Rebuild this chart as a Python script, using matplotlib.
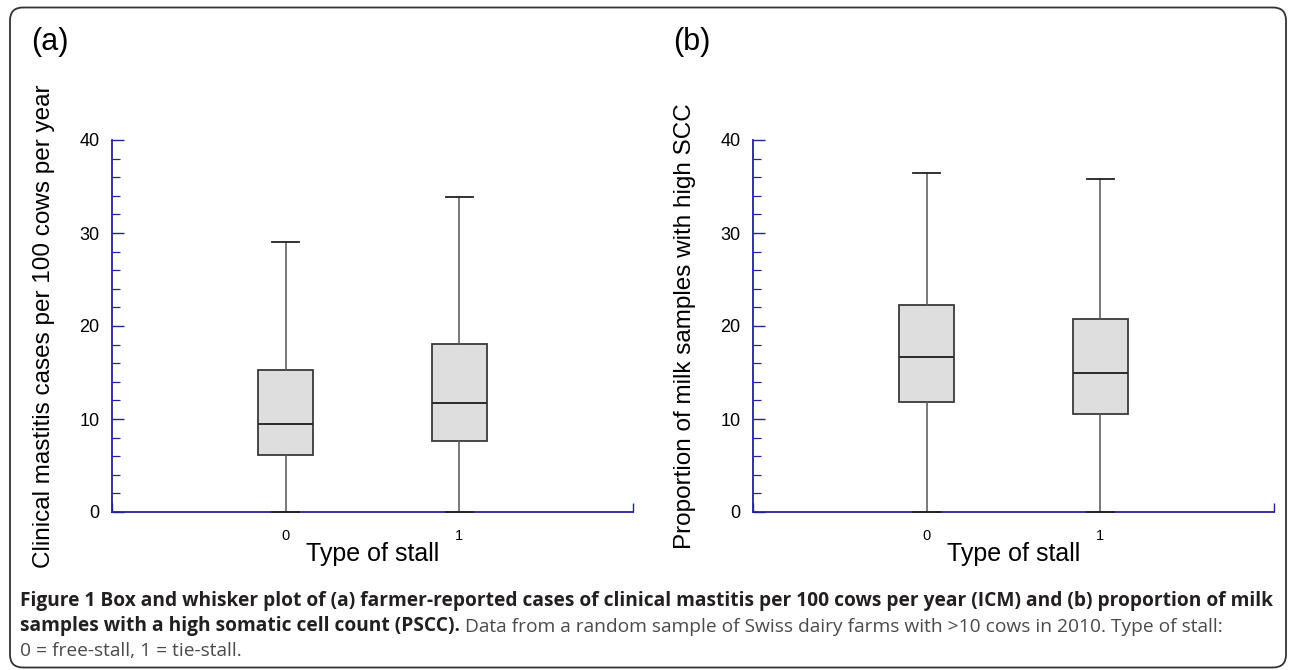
import matplotlib
matplotlib.use("Agg")
import matplotlib.pyplot as plt
from matplotlib.patches import FancyBboxPatch
from matplotlib.ticker import MultipleLocator, FixedLocator

# values
stall_types = [0, 1]
stall_labels = ["0", "1"]

icm_low = [0.0, 0.0]
icm_q1 = [6.1, 7.6]
icm_median = [9.5, 11.7]
icm_q3 = [15.3, 18.1]
icm_high = [29.0, 33.9]

pscc_low = [0.0, 0.0]
pscc_q1 = [11.8, 10.5]
pscc_median = [16.7, 15.0]
pscc_q3 = [22.3, 20.7]
pscc_high = [36.5, 35.8]

ylabel_a = "Clinical mastitis cases per 100 cows per year"
ylabel_b = "Proportion of milk samples with high SCC"
xlabel = "Type of stall"

cap_bold_1 = ("Figure 1 Box and whisker plot of (a) farmer-reported cases of clinical mastitis "
              "per 100 cows per year (ICM) and (b) proportion of milk")
cap_bold_2 = "samples with a high somatic cell count (PSCC)."
cap_reg_2 = "Data from a random sample of Swiss dairy farms with >10 cows in 2010. Type of stall:"
cap_reg_3 = "0 = free-stall, 1 = tie-stall."

plt.rcParams['font.family'] = ['Liberation Sans', 'DejaVu Sans']
navy = '#22229a'

W, H = 1290, 670
fig = plt.figure(figsize=(W / 100, H / 100), dpi=100)


def panel(left_px, low, q1, med, q3, high, ylabel):
    ax = fig.add_axes([left_px / W, 1 - 512 / H, 521 / W, 372 / H])
    stats = []
    for lo, a, m, b, hi in zip(low, q1, med, q3, high):
        stats.append(dict(whislo=lo, q1=a, med=m, q3=b, whishi=hi, fliers=[]))
    parts = ax.bxp(stats, positions=stall_types, widths=0.32, capwidths=0.155,
                   patch_artist=True, showfliers=False,
                   boxprops=dict(facecolor='#dedede', edgecolor='#3a3a3a', linewidth=1.3),
                   medianprops=dict(color='#2a2a2a', linewidth=1.4),
                   whiskerprops=dict(color='#555555', linewidth=1.1),
                   capprops=dict(color='#222222', linewidth=1.3))
    for key in parts:
        for art in parts[key]:
            art.set_clip_on(False)
    for c in parts['caps']:
        c.set_zorder(4)

    ax.set_xlim(-1, 2)
    ax.set_ylim(0, 40)
    for s in ['top', 'right']:
        ax.spines[s].set_visible(False)
    for s in ['left', 'bottom']:
        ax.spines[s].set_color(navy)
        ax.spines[s].set_linewidth(1.3)

    ax.yaxis.set_major_locator(MultipleLocator(10))
    ax.yaxis.set_minor_locator(MultipleLocator(2))
    ax.tick_params(axis='y', which='major', direction='in', length=8.6, width=1.0,
                   color=navy, labelcolor='black', labelsize=13, pad=9)
    ax.tick_params(axis='y', which='minor', direction='in', length=5.5, width=0.9,
                   color=navy)

    ax.set_xticks(stall_types, stall_labels)
    ax.xaxis.set_minor_locator(FixedLocator([-1, 2]))
    ax.tick_params(axis='x', which='major', length=0, labelsize=10.5, pad=12)
    ax.tick_params(axis='x', which='minor', direction='in', length=6.5, width=1.0,
                   color=navy)

    ax.set_xlabel(xlabel, fontsize=18)
    ax.xaxis.set_label_coords(0.5, -0.081)
    ax.set_ylabel(ylabel, fontsize=17.5)
    ax.yaxis.set_label_coords(-0.109, 0.5)
    return ax


ax_a = panel(112, icm_low, icm_q1, icm_median, icm_q3, icm_high, ylabel_a)
ax_b = panel(753, pscc_low, pscc_q1, pscc_median, pscc_q3, pscc_high, ylabel_b)

fig.text(31 / W, 1 - 27 / H, "(a)", fontsize=22, va='top', ha='left')
fig.text(673 / W, 1 - 27 / H, "(b)", fontsize=22, va='top', ha='left')

# caption
cap_font = ['Open Sans', 'DejaVu Sans']
renderer = fig.canvas.get_renderer()
x0 = 20 / W
t1 = fig.text(x0, 1 - 606 / H, cap_bold_1, fontsize=13, fontweight='bold',
              family=cap_font, color='#231f20', va='baseline')
w1 = t1.get_window_extent(renderer).width
cap_size = 13 * 1240 / w1
t1.set_fontsize(cap_size)

t2 = fig.text(x0, 1 - 631.5 / H, cap_bold_2, fontsize=cap_size, fontweight='bold',
              family=cap_font, color='#231f20', va='baseline')
r2 = t2.get_window_extent(renderer).x1
fig.text((r2 + cap_size * 0.35) / W, 1 - 631.5 / H, cap_reg_2, fontsize=cap_size,
         family=cap_font, color='#4a4a4a', va='baseline')
fig.text(x0, 1 - 656.5 / H, cap_reg_3, fontsize=cap_size,
         family=cap_font, color='#4a4a4a', va='baseline')

# rounded frame around the figure
frame = FancyBboxPatch((0.1, 0.025), 12.76, 6.6,
                       boxstyle="round,pad=0,rounding_size=0.13",
                       transform=fig.dpi_scale_trans, facecolor='none',
                       edgecolor='#333333', linewidth=1.3)
fig.patches.append(frame)

fig.savefig("out.png", dpi=100)
